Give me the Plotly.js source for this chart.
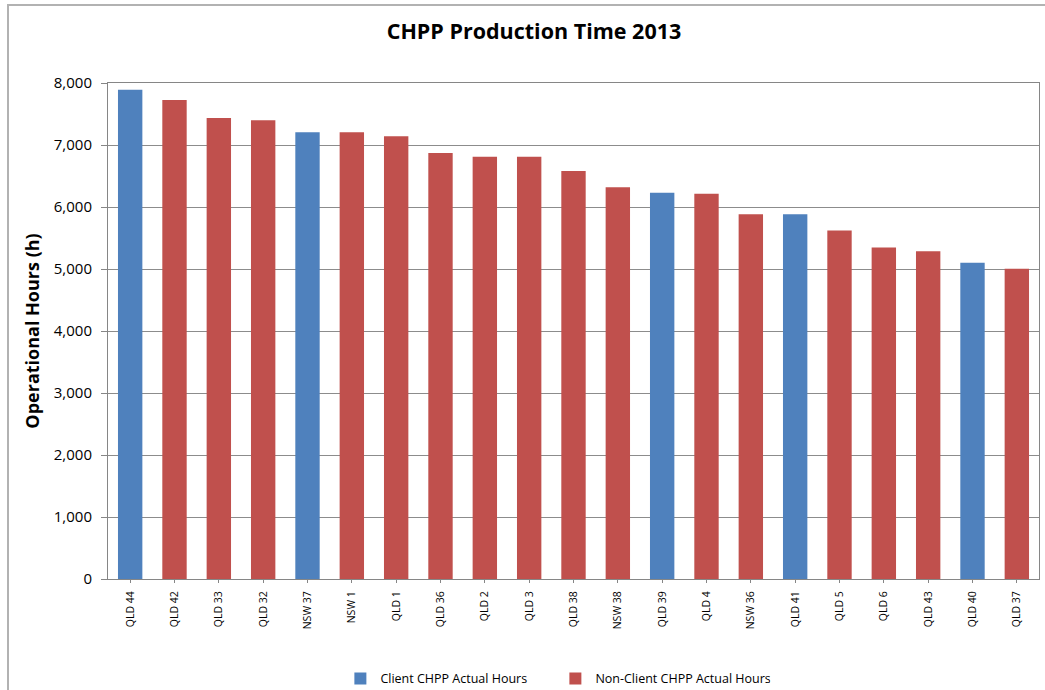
<!DOCTYPE html>
<html>
<head>
<meta charset="utf-8">
<script src="https://cdn.plot.ly/plotly-3.0.1.min.js"></script>
<style>
  html, body { margin: 0; padding: 0; background: #ffffff; }
  #wrap { position: relative; width: 1045px; height: 690px; overflow: hidden; }
  #chart { position: absolute; left: 0; top: 0; width: 1045px; height: 690px; }
  #frame { position: absolute; left: 7px; top: 4px; width: 1060px; height: 700px;
           border-left: 2px solid #b2b2b2; border-top: 2px solid #b2b2b2; pointer-events: none; }
</style>
</head>
<body>
<div id="wrap">
  <div id="chart"></div>
  <div id="frame"></div>
</div>
<script>
// Data
const categories = ["QLD 44","QLD 42","QLD 33","QLD 32","NSW 37","NSW 1","QLD 1","QLD 36","QLD 2","QLD 3","QLD 38",
                    "NSW 38","QLD 39","QLD 4","NSW 36","QLD 41","QLD 5","QLD 6","QLD 43","QLD 40","QLD 37"];
const clientHours = [7890,null,null,null,7205,null,null,null,null,null,null,
                     null,6230,null,null,5885,null,null,null,5100,null];
const nonClientHours = [null,7725,7435,7400,null,7205,7140,6870,6810,6810,6580,
                        6320,null,6215,5885,null,5620,5345,5285,null,5003];
const seriesNames = ["Client CHPP Actual Hours","Non-Client CHPP Actual Hours"];
const tickVals = [0,1000,2000,3000,4000,5000,6000,7000,8000];

const font = "Open Sans, Liberation Sans, sans-serif";

const traces = [
  { type: "bar", name: seriesNames[0], x: categories, y: clientHours,
    marker: { color: "#4F81BD", line: { width: 0 } }, hoverinfo: "x+y" },
  { type: "bar", name: seriesNames[1], x: categories, y: nonClientHours,
    marker: { color: "#C0504D", line: { width: 0 } }, hoverinfo: "x+y" }
];

const layout = {
  width: 1045, height: 690,
  paper_bgcolor: "#ffffff", plot_bgcolor: "#ffffff",
  margin: { l: 108, r: 6, t: 83, b: 111, autoexpand: false },
  barmode: "overlay",
  bargap: 0.45,
  showlegend: true,
  title: { text: "<b>CHPP Production Time 2013</b>", x: 0.511, xanchor: "center",
           y: 0.954, yanchor: "middle", font: { family: font, size: 21.5, color: "#000000" } },
  xaxis: {
    type: "category",
    tickangle: -90,
    tickfont: { family: font, size: 10.5, color: "#000000" },
    ticks: "outside", ticklen: 3, tickcolor: "#868686",
    ticklabelstandoff: 4,
    showline: true, linecolor: "#868686", linewidth: 1, mirror: true,
    showgrid: false, automargin: false, fixedrange: true
  },
  yaxis: {
    range: [0, 8000],
    tickvals: tickVals,
    tickformat: ",d",
    tickfont: { family: font, size: 15, color: "#000000" },
    ticks: "outside", ticklen: 6, tickcolor: "#868686",
    ticklabelstandoff: 6,
    showline: true, linecolor: "#868686", linewidth: 1, mirror: true,
    showgrid: true, gridcolor: "#8c8c8c", gridwidth: 1,
    zeroline: false,
    automargin: false, fixedrange: true,
    title: { text: "<b>Operational Hours (h)</b>", standoff: 9,
             font: { family: font, size: 18, color: "#000000" } }
  },
  legend: {
    orientation: "h",
    xref: "paper", x: 0.2496, xanchor: "left",
    yref: "container", y: 0.016, yanchor: "middle",
    font: { family: font, size: 12.5, color: "#000000" },
    entrywidth: 170, entrywidthmode: "pixels",
    itemwidth: 30,
    bgcolor: "rgba(0,0,0,0)", borderwidth: 0
  }
};

Plotly.newPlot("chart", traces, layout, { displayModeBar: false, staticPlot: true });
</script>
</body>
</html>
